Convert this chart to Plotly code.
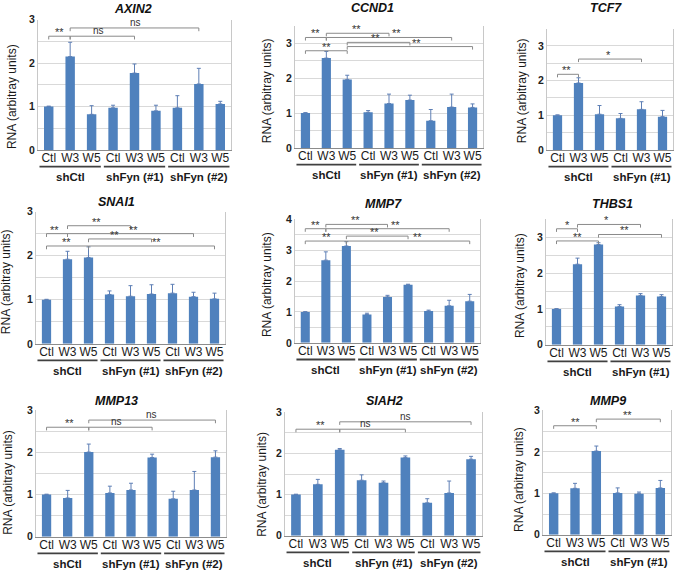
import plotly.graph_objects as go

W, H = 677, 576
FONT = "Liberation Sans, Arial, sans-serif"
BAR = "#4F81BD"
ERR = "#5E7FB5"

conditions = ["Ctl", "W3", "W5"]
groups = ["shCtl", "shFyn (#1)", "shFyn (#2)"]
genes = ["AXIN2", "CCND1", "TCF7", "SNAI1", "MMP7", "THBS1", "MMP13", "SIAH2", "MMP9"]

# mean expression (arbitrary units) and upper error
axin2_val = [1.00, 2.15, 0.82, 0.97, 1.77, 0.90, 0.97, 1.52, 1.06]
axin2_err = [0.01, 0.33, 0.20, 0.06, 0.21, 0.13, 0.28, 0.36, 0.06]
ccnd1_val = [1.00, 2.57, 1.96, 1.02, 1.27, 1.37, 0.78, 1.17, 1.16]
ccnd1_err = [0.01, 0.19, 0.12, 0.05, 0.27, 0.14, 0.32, 0.37, 0.10]
tcf7_val = [1.00, 1.93, 1.03, 0.91, 1.17, 0.96]
tcf7_err = [0.01, 0.15, 0.25, 0.14, 0.22, 0.18]
snai1_val = [1.00, 1.92, 1.96, 1.12, 1.08, 1.13, 1.15, 1.07, 1.02]
snai1_err = [0.01, 0.18, 0.24, 0.08, 0.24, 0.21, 0.20, 0.10, 0.13]
mmp7_val = [1.00, 2.68, 3.14, 0.92, 1.49, 1.88, 1.03, 1.20, 1.35]
mmp7_err = [0.01, 0.27, 0.14, 0.04, 0.05, 0.02, 0.03, 0.18, 0.22]
thbs1_val = [1.00, 2.25, 2.80, 1.07, 1.38, 1.35]
thbs1_err = [0.01, 0.17, 0.05, 0.05, 0.05, 0.05]
mmp13_val = [1.00, 0.92, 2.01, 1.04, 1.11, 1.88, 0.90, 1.11, 1.89]
mmp13_err = [0.01, 0.18, 0.19, 0.16, 0.16, 0.08, 0.18, 0.44, 0.15]
siah2_val = [1.00, 1.25, 2.09, 1.35, 1.29, 1.90, 0.80, 1.04, 1.86]
siah2_err = [0.01, 0.12, 0.03, 0.13, 0.04, 0.04, 0.10, 0.29, 0.07]
mmp9_val = [1.00, 1.12, 2.02, 1.01, 0.99, 1.13]
mmp9_err = [0.01, 0.12, 0.12, 0.12, 0.04, 0.18]

# significance brackets: (from index, to index, height, label, label position)
axin2_sig = [(0, 1, 2.62, "**", 0.5), (1, 4, 2.62, "ns", 2.3), (1, 7, 2.81, "ns", 4.06)]
ccnd1_sig = [(0, 1, 3.16, "**", 0.46), (1, 4, 3.28, "**", 2.42), (1, 7, 3.16, "**", 4.38),
             (0, 2, 2.78, "**", 1.03), (2, 5, 3.02, "**", 3.33), (2, 8, 2.90, "**", 5.34)]
tcf7_sig = [(0, 1, 2.18, "**", 0.42), (1, 4, 2.62, "*", 2.45)]
snai1_sig = [(0, 1, 2.50, "**", 0.4), (1, 4, 2.68, "**", 2.39), (1, 7, 2.50, "**", 4.12),
             (0, 2, 2.22, "**", 0.96), (2, 5, 2.38, "**", 3.26), (2, 8, 2.22, "**", 5.25)]
mmp7_sig = [(0, 1, 3.70, "**", 0.49), (1, 4, 3.84, "**", 2.44), (1, 7, 3.70, "**", 4.39),
            (0, 2, 3.30, "**", 1.02), (2, 5, 3.46, "**", 3.37), (2, 8, 3.30, "**", 5.45)]
thbs1_sig = [(0, 1, 3.24, "*", 0.52), (1, 4, 3.36, "*", 2.37),
             (0, 2, 2.90, "**", 1.0), (2, 5, 3.08, "**", 3.24)]
mmp13_sig = [(0, 2, 2.60, "**", 1.1), (2, 5, 2.60, "ns", 3.3), (2, 8, 2.77, "ns", 4.98)]
siah2_sig = [(0, 2, 2.59, "**", 1.1), (2, 5, 2.59, "ns", 3.2), (2, 8, 2.77, "ns", 5.0)]
mmp9_sig = [(0, 2, 2.63, "**", 1.0), (2, 5, 2.79, "**", 3.46)]

y_max = [3, 3.5, 3.5, 3, 4, 3.5, 3, 3, 3]

values = [axin2_val, ccnd1_val, tcf7_val, snai1_val, mmp7_val, thbs1_val, mmp13_val, siah2_val, mmp9_val]
errors = [axin2_err, ccnd1_err, tcf7_err, snai1_err, mmp7_err, thbs1_err, mmp13_err, siah2_err, mmp9_err]
sigs = [axin2_sig, ccnd1_sig, tcf7_sig, snai1_sig, mmp7_sig, thbs1_sig, mmp13_sig, siah2_sig, mmp9_sig]

# layout in pixels: plot x0, x1, ytop, ybottom, title x, title y, ytitle x, ytitle y
boxes = [
    (38, 231, 14, 147, 133, 3, 12, 93),
    (295, 483, 20, 145, 372, 2, 267, 87),
    (547, 673, 23, 147, 606, 2, 522, 87),
    (36, 225, 210, 345, 117, 200, 6, 282),
    (295, 480, 218, 344, 383, 202, 267, 285),
    (546, 672, 218, 346, 612, 202, 520, 286),
    (36, 226, 413, 542, 117, 403, 8, 487),
    (285, 482, 415, 541, 384, 403, 262, 489),
    (543, 671, 413, 540, 608, 403, 519, 484),
]

def px(x):
    return x / W

def py(y):
    return 1 - y / H

fig = go.Figure()
layout = {}
shapes = []
annotations = []

for k, gene in enumerate(genes):
    n = len(values[k])
    ng = n // 3
    xn = "x" if k == 0 else f"x{k+1}"
    yn = "y" if k == 0 else f"y{k+1}"
    xa = "xaxis" if k == 0 else f"xaxis{k+1}"
    ya = "yaxis" if k == 0 else f"yaxis{k+1}"
    x0, x1, yt, yb, tx, ty, ax, ay = boxes[k]
    xs = list(range(n))
    labels = [conditions[i % 3] for i in range(n)]

    fig.add_trace(go.Bar(
        x=xs, y=values[k], xaxis=xn, yaxis=yn, width=0.44,
        marker=dict(color=BAR, line=dict(width=0)),
        error_y=dict(type="data", symmetric=False, array=errors[k],
                     arrayminus=[0] * n, color=ERR, thickness=1, width=2),
        showlegend=False, hoverinfo="skip"))

    ym = y_max[k]
    tv = [i * 0.5 for i in range(int(ym * 2) + 1)]
    tt = [f"<b>{int(v)}</b>" if v == int(v) else "" for v in tv]

    layout[xa] = dict(domain=[px(x0), px(x1)], anchor=yn, range=[-0.5, n - 0.5],
                      tickvals=xs, ticktext=labels, showgrid=False, zeroline=False,
                      showline=True, linecolor="#8C8C8C", linewidth=1, ticks="",
                      ticklabelstandoff=-3,
                      tickfont=dict(family=FONT, size=12, color="#1A1A1A"), fixedrange=True)
    layout[ya] = dict(domain=[py(yb), py(yt)], anchor=xn, range=[0, ym],
                      tickvals=tv, ticktext=tt, showgrid=True, gridcolor="#D9D9D9",
                      gridwidth=1, zeroline=False, showline=True, mirror=True,
                      linecolor="#C8C8C8", linewidth=1, ticks="",
                      tickfont=dict(family=FONT, size=10.5, color="#222"), fixedrange=True)

    # group underlines and labels
    for g in range(ng):
        shapes.append(dict(type="line", xref=xn, yref="paper",
                           x0=g * 3 - 0.5 + 0.07, x1=g * 3 + 2.5 - 0.07,
                           y0=py(yb + 17), y1=py(yb + 17),
                           line=dict(color="#404040", width=1.8)))
        annotations.append(dict(xref=xn, yref="paper", x=g * 3 + 1, y=py(yb + 28),
                                text=f"<b>{groups[g]}</b>", showarrow=False,
                                xanchor="center", yanchor="middle",
                                font=dict(family=FONT, size=11.5, color="#1A1A1A")))

    # significance brackets
    tick = 0.025 * ym
    for (i, j, h, lab, lx) in sigs[k]:
        shapes.append(dict(type="path", xref=xn, yref=yn,
                           path=f"M {i},{h - tick} L {i},{h} L {j},{h} L {j},{h - tick}",
                           line=dict(color="#8A8A8A", width=1)))
        star = lab.startswith("*")
        annotations.append(dict(xref=xn, yref=yn, x=lx, y=h, text=lab,
                                showarrow=False, xanchor="center", yanchor="bottom",
                                yshift=-4 if star else -2,
                                font=dict(family=FONT, size=11 if star else 10, color="#333")))

    # title
    annotations.append(dict(xref="paper", yref="paper", x=px(tx), y=py(ty),
                            text=f"<b><i>{gene}</i></b>", showarrow=False,
                            xanchor="center", yanchor="middle",
                            font=dict(family=FONT, size=12.5, color="#111")))
    # y-axis title
    annotations.append(dict(xref="paper", yref="paper", x=px(ax), y=py(ay),
                            text="RNA (arbitray units)", showarrow=False, textangle=-90,
                            xanchor="center", yanchor="middle",
                            font=dict(family=FONT, size=12, color="#1A1A1A")))

fig.update_layout(**layout)
fig.update_layout(width=W, height=H, margin=dict(l=0, r=0, t=0, b=0),
                  paper_bgcolor="white", plot_bgcolor="white",
                  shapes=shapes, annotations=annotations, bargap=0.5,
                  font=dict(family=FONT))

fig.write_html("out.html", config={"displayModeBar": False},
               post_script="document.body.style.margin='0';document.body.style.overflow='hidden';")
